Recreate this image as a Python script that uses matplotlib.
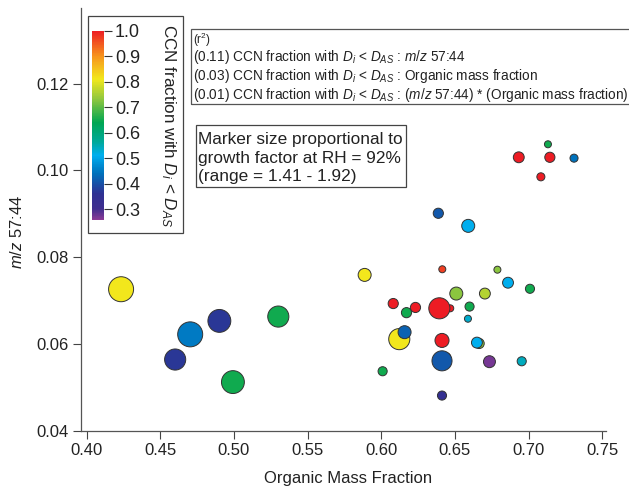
import numpy as np
import matplotlib
matplotlib.use("Agg")
import matplotlib.pyplot as plt
from matplotlib.colors import LinearSegmentedColormap
from matplotlib.patches import Rectangle

plt.rcParams['font.family'] = ['Liberation Sans', 'DejaVu Sans']
plt.rcParams['mathtext.fontset'] = 'custom'
plt.rcParams['mathtext.rm'] = 'Liberation Sans'
plt.rcParams['mathtext.it'] = 'Liberation Sans:italic'

# organic mass fraction, m/z 57:44, CCN fraction (Di < DAS), growth factor at RH 92%
omf = [0.4234, 0.4703, 0.4901, 0.4601, 0.5301, 0.4993,
       0.7131, 0.6933, 0.7144, 0.7308, 0.7083, 0.6860, 0.7009, 0.6788,
       0.6387, 0.6590, 0.6414, 0.6509, 0.6703, 0.6081, 0.6171, 0.6232,
       0.6468, 0.6394, 0.6599, 0.6588, 0.6122, 0.6158, 0.6412, 0.6443,
       0.6412, 0.6664, 0.6649, 0.6734, 0.6953, 0.6009, 0.6412, 0.5887]
mz = [0.0726, 0.0622, 0.0653, 0.0564, 0.0663, 0.0512,
      0.1060, 0.1030, 0.1030, 0.1028, 0.0985, 0.0741, 0.0727, 0.0771,
      0.0901, 0.0872, 0.0772, 0.0716, 0.0716, 0.0693, 0.0672, 0.0684,
      0.0682, 0.0682, 0.0686, 0.0658, 0.0611, 0.0627, 0.0608, 0.0570,
      0.0561, 0.0601, 0.0603, 0.0559, 0.0560, 0.0537, 0.0481, 0.0759]
ccn = [0.81, 0.45, 0.37, 0.37, 0.65, 0.65,
       0.65, 1.00, 1.00, 0.44, 1.00, 0.51, 0.65, 0.73,
       0.41, 0.51, 0.97, 0.73, 0.76, 1.00, 0.65, 1.00,
       1.00, 1.00, 0.65, 0.53, 0.81, 0.42, 1.00, 0.99,
       0.41, 0.73, 0.51, 0.27, 0.54, 0.65, 0.34, 0.81]
gf = [1.92, 1.92, 1.86, 1.81, 1.81, 1.86,
      1.41, 1.52, 1.50, 1.44, 1.44, 1.52, 1.47, 1.41,
      1.50, 1.58, 1.41, 1.58, 1.52, 1.50, 1.50, 1.50,
      1.41, 1.81, 1.47, 1.41, 1.81, 1.58, 1.61, 1.44,
      1.78, 1.50, 1.52, 1.55, 1.47, 1.47, 1.47, 1.58]

cb_ticks = [0.3, 0.4, 0.5, 0.6, 0.7, 0.8, 0.9, 1.0]
x_ticks = [0.40, 0.45, 0.50, 0.55, 0.60, 0.65, 0.70, 0.75]
y_ticks = [0.04, 0.06, 0.08, 0.10, 0.12]

vmin, vmax = 0.257, 1.0
nodes = [0.257, 0.30, 0.36, 0.44, 0.51, 0.56, 0.64, 0.73, 0.81, 0.90, 1.00]
cols = ['#8B3A96', '#3F2E8F', '#2E3192', '#0072BC', '#00AEEF', '#00A99D',
        '#00A651', '#8DC63F', '#F2E81C', '#F7941D', '#ED1C24']
rainbow = LinearSegmentedColormap.from_list(
    'ccn', [((v - vmin) / (vmax - vmin), c) for v, c in zip(nodes, cols)])

W, H = 629, 490
def fx(px): return px / W
def fy(py): return 1 - py / H

fig = plt.figure(figsize=(W / 100, H / 100), dpi=100)
ax = fig.add_axes([fx(81.3), fy(430.7), (606 - 81.3) / W, (430.7 - 8) / H])

# marker diameter (px) linear in growth factor
g = np.array(gf)
diam = 7 + (g - 1.41) / (1.92 - 1.41) * 18
sizes = (diam * 0.72) ** 2

sc = ax.scatter(omf, mz, s=sizes, c=ccn, cmap=rainbow, vmin=vmin, vmax=vmax,
                edgecolors='#333333', linewidths=0.7, zorder=3)

ax.set_xlim(0.3964, 0.7525)
ax.set_ylim(0.04, 0.1374)
ax.set_xticks(x_ticks)
ax.set_yticks(y_ticks)
ax.set_xticklabels(['%.2f' % v for v in x_ticks])
ax.set_yticklabels(['%.2f' % v for v in y_ticks])
ax.tick_params(direction='out', length=6, width=0.8, color='#444444',
               labelsize=12, labelcolor='#222222', pad=3)
for s in ['top', 'right']:
    ax.spines[s].set_visible(False)
for s in ['left', 'bottom']:
    ax.spines[s].set_color('#555555')
    ax.spines[s].set_linewidth(0.9)

ax.set_xlabel('Organic Mass Fraction', fontsize=12, color='#222222')
ax.set_ylabel('$m/z$ 57:44', fontsize=12, color='#222222')
ax.xaxis.set_label_coords(0.508, -0.095)
ax.yaxis.set_label_coords(-0.107, 0.47)

# colour scale in a framed box
cax = fig.add_axes([fx(92.3), fy(220), (104 - 92.3) / W, (220 - 30.5) / H])
cb = fig.colorbar(sc, cax=cax)
cb.set_ticks(cb_ticks)
cb.set_ticklabels(['%.1f' % v for v in cb_ticks])
cb.outline.set_visible(False)
cax.tick_params(direction='out', length=6, width=0.8, color='#333333',
                labelsize=13, labelcolor='#222222', pad=2)
fig.patches.append(Rectangle((fx(88.3), fy(233)), (183.3 - 88.3) / W, (233 - 16) / H,
                             transform=fig.transFigure, fill=False,
                             edgecolor='#444444', lw=0.9, zorder=5))
fig.text(fx(168), fy(126), 'CCN fraction with $D_i$ < $D_{AS}$', rotation=270,
         ha='center', va='center', fontsize=12.3, color='#222222')

# r^2 legend
fig.patches.append(Rectangle((fx(191), fy(104)), (640 - 191) / W, (104 - 29) / H,
                             transform=fig.transFigure, fill=False,
                             edgecolor='#555555', lw=0.9, zorder=5))
fig.text(fx(193), fy(40), '(r$^2$)', fontsize=8.5, va='center', color='#222222')
r2 = [0.11, 0.03, 0.01]
rhs = ['$m/z$ 57:44', 'Organic mass fraction', '($m/z$ 57:44) * (Organic mass fraction)']
for i, (r, t) in enumerate(zip(r2, rhs)):
    fig.text(fx(193), fy(57.5 + 18.5 * i),
             '(%.2f) CCN fraction with $D_i$ < $D_{AS}$ : %s' % (r, t),
             fontsize=9.8, va='center', color='#222222')

# marker size note
fig.patches.append(Rectangle((fx(196), fy(187)), (406 - 196) / W, (187 - 125) / H,
                             transform=fig.transFigure, fill=False,
                             edgecolor='#444444', lw=0.9, zorder=5))
note = ['Marker size proportional to', 'growth factor at RH = 92%',
        '(range = 1.41 - 1.92)']
for i, t in enumerate(note):
    fig.text(fx(198), fy(139 + 19 * i), t, fontsize=12.4, va='center', color='#222222')

fig.savefig('out.png', dpi=100)
